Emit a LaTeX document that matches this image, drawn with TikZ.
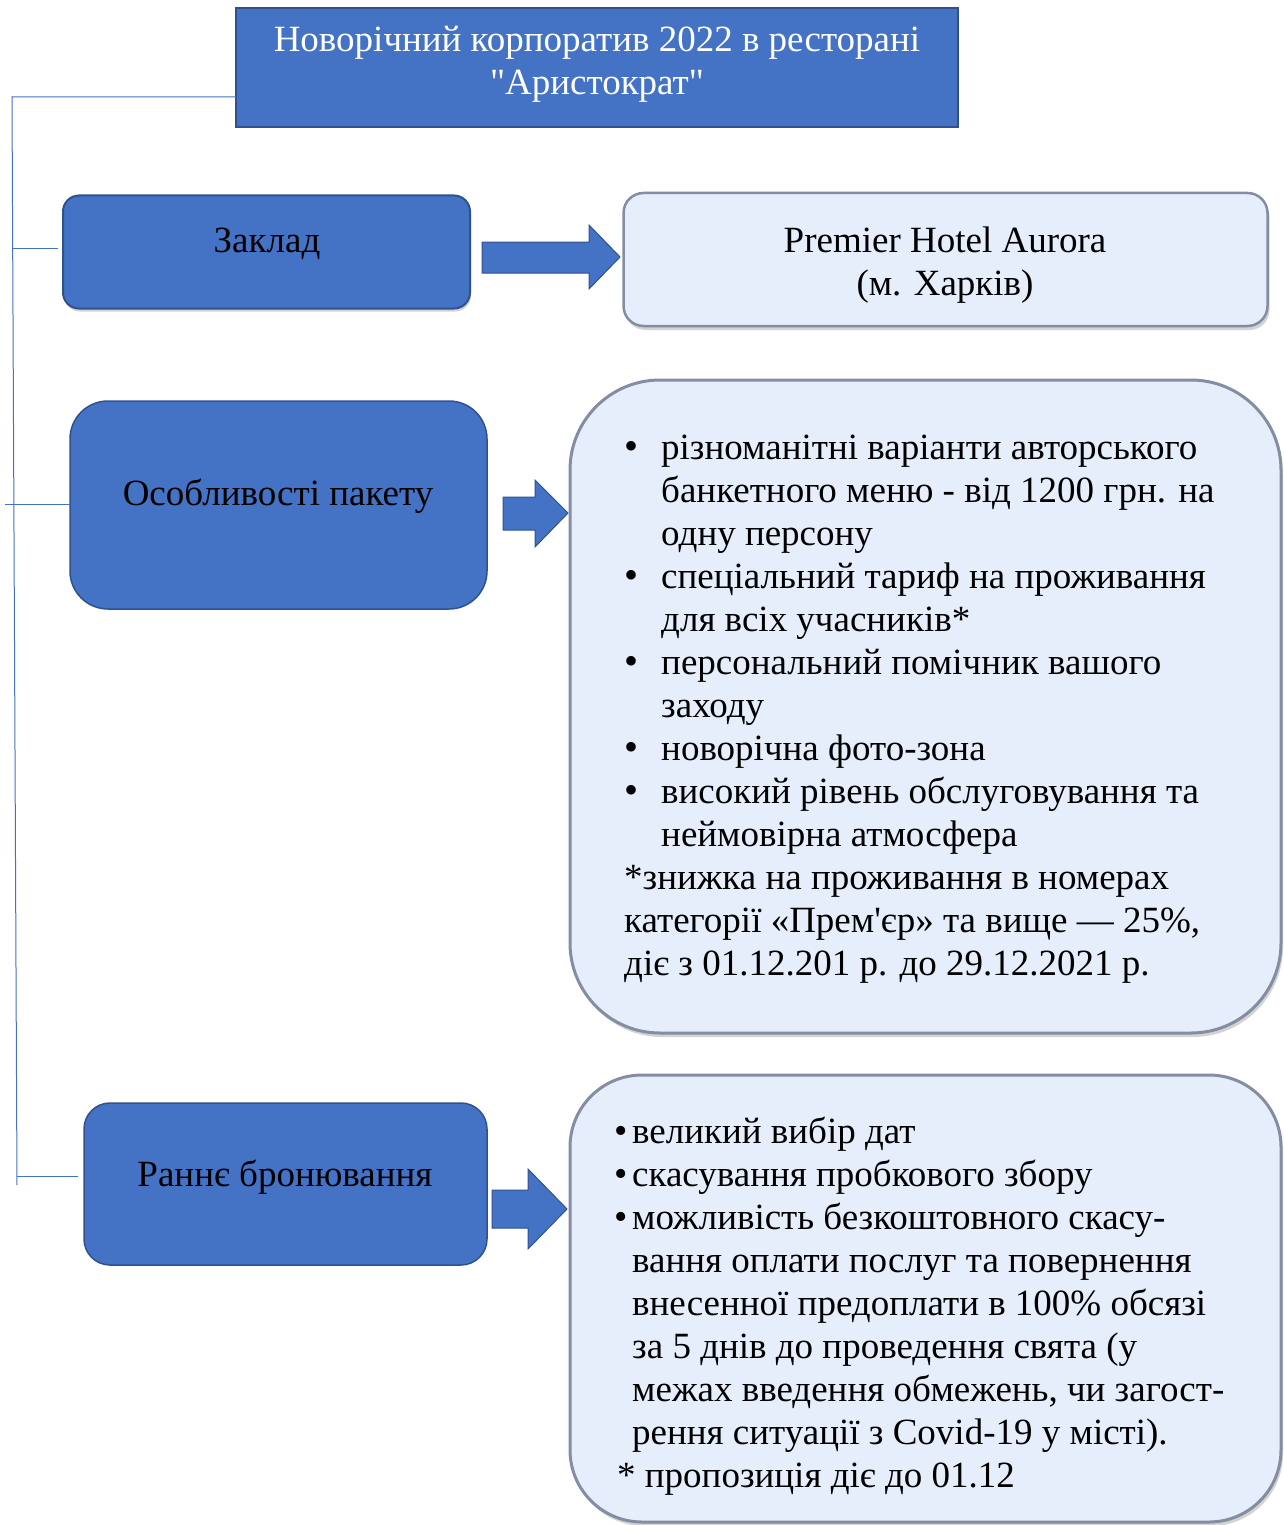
\documentclass[tikz,border=0pt]{standalone}
\usepackage{fontspec}
\setmainfont{Liberation Serif}[Ligatures=TeXOff]
\usetikzlibrary{shadows}
\definecolor{blu}{HTML}{4472C4}
\definecolor{bluedge}{HTML}{2F528F}
\definecolor{pale}{HTML}{E7EEFB}
\definecolor{paleedge}{HTML}{858DA3}
\newcommand\bigfont{\fontsize{37}{43}\selectfont}
\newcommand\bulA{\makebox[37pt][l]{\hspace{0pt}{\fontsize{40}{40}\selectfont •}}}
\newcommand\contA{\hspace*{37pt}}
\newcommand\bulB{\makebox[17pt][l]{\hspace{-1pt}{\fontsize{38}{38}\selectfont •}}}
\newcommand\contB{\hspace*{17pt}}
\begin{document}
\begin{tikzpicture}[x=1pt,y=-1pt,
  bluebox/.style={draw=bluedge, line width=1.5pt, fill=blu},
  bevelbox/.style={draw=bluedge, line width=2pt, fill=blu, drop shadow={shadow xshift=1pt, shadow yshift=-3pt, opacity=0.35}},
  palebox/.style={draw=paleedge, line width=3pt, fill=pale, drop shadow={shadow xshift=2pt, shadow yshift=-4pt, opacity=0.35}},
  blockarrow/.style={fill=blu, draw=bluedge, line width=1pt},
  conn/.style={draw=blu, line width=1pt},
  lbl/.style={font=\bigfont, text=black, align=center, inner sep=0pt},
  shapebox/.style={inner sep=0pt, outer sep=0pt}]
\useasboundingbox (0,0) rectangle (1284,1525);

% title
\node[shapebox, bluebox, line width=2pt, minimum width=722pt, minimum height=119pt] (title) at (597,67.5) {};
\node[lbl, text=white] (titletxt) at (597,64) {Новорічний корпоратив 2022 в ресторані\\"Аристократ"};

% Заклад
\node[shapebox, bevelbox, rounded corners=16pt, minimum width=407pt, minimum height=113pt] (zak) at (266.5,252) {};
\node[lbl] (zaktxt) at (267,244) {Заклад};

% Premier
\node[shapebox, palebox, line width=2.5pt, rounded corners=20pt, minimum width=644pt, minimum height=133pt] (prem) at (945.5,259.5) {};
\node[lbl] (premtxt) at (945,265) {Premier Hotel Aurora\\(м. Харків)};

% Особливості
\node[shapebox, bluebox, rounded corners=38pt, minimum width=417pt, minimum height=208pt] (osob) at (278.5,505) {};
\node[lbl] (osobtxt) at (278,496) {Особливості пакету};

% features box
\node[shapebox, palebox, rounded corners=90pt, minimum width=711pt, minimum height=653pt] (feat) at (925.5,706.5) {};
\node[anchor=base west, inner sep=0pt] (feattxt) at (624,459) {\parbox[t]{655pt}{\bigfont\raggedright
\bulA різноманітні варіанти авторського\\
\contA банкетного меню - від 1200 грн. на\\
\contA одну персону\\
\bulA спеціальний тариф на проживання\\
\contA для всіх учасників*\\
\bulA персональний помічник вашого\\
\contA заходу\\
\bulA новорічна фото-зона\\
\bulA високий рівень обслуговування та\\
\contA неймовірна атмосфера\\\relax
*знижка на проживання в номерах\\
категорії «Прем'єр» та вище — 25\%,\\
діє з 01.12.201 р. до 29.12.2021 р.}};

% Раннє
\node[shapebox, bluebox, rounded corners=26pt, minimum width=403pt, minimum height=162pt] (rann) at (285.5,1184) {};
\node[lbl] (ranntxt) at (285,1177) {Раннє бронювання};

% booking box
\node[shapebox, palebox, rounded corners=72pt, minimum width=711pt, minimum height=447pt] (book) at (925.5,1298.5) {};
\node[anchor=base west, inner sep=0pt] (booktxt) at (615,1143) {\parbox[t]{660pt}{\bigfont\raggedright
\bulB великий вибір дат\\
\bulB скасування пробкового збору\\
\bulB можливість безкоштовного скасу-\\
\contB вання оплати послуг та повернення\\
\contB внесенної предоплати в 100\% обсязі\\
\contB за 5 днів до проведення свята (у\\
\contB межах введення обмежень, чи загост-\\
\contB рення ситуації з Covid-19 у місті).\\
\hspace*{2pt}* пропозиція діє до 01.12}};

% block arrows
\draw[blockarrow] (482,242) -- (589,242) -- (589,225) -- (620,257) -- (589,289) -- (589,273) -- (482,273) -- cycle;
\draw[blockarrow] (503,497) -- (535,497) -- (535,480) -- (568,513) -- (535,547) -- (535,530) -- (503,530) -- cycle;
\draw[blockarrow] (492,1190) -- (528,1190) -- (528,1169) -- (567,1209) -- (528,1249) -- (528,1228) -- (492,1228) -- cycle;

% left connector tree
\coordinate (top) at (12,97);
\coordinate (bot) at (17,1185);
\coordinate (b1) at (13,248);
\coordinate (b2) at (5,504);
\coordinate (b3) at (17,1176);
\draw[conn] (title.west |- top) -- (top) -- (bot);
\draw[conn] (b1) -- ([xshift=-5pt]zak.west |- b1);
\draw[conn] (b2) -- (osob.west |- b2);
\draw[conn] (b3) -- ([xshift=-6pt]rann.west |- b3);
\end{tikzpicture}
\end{document}
